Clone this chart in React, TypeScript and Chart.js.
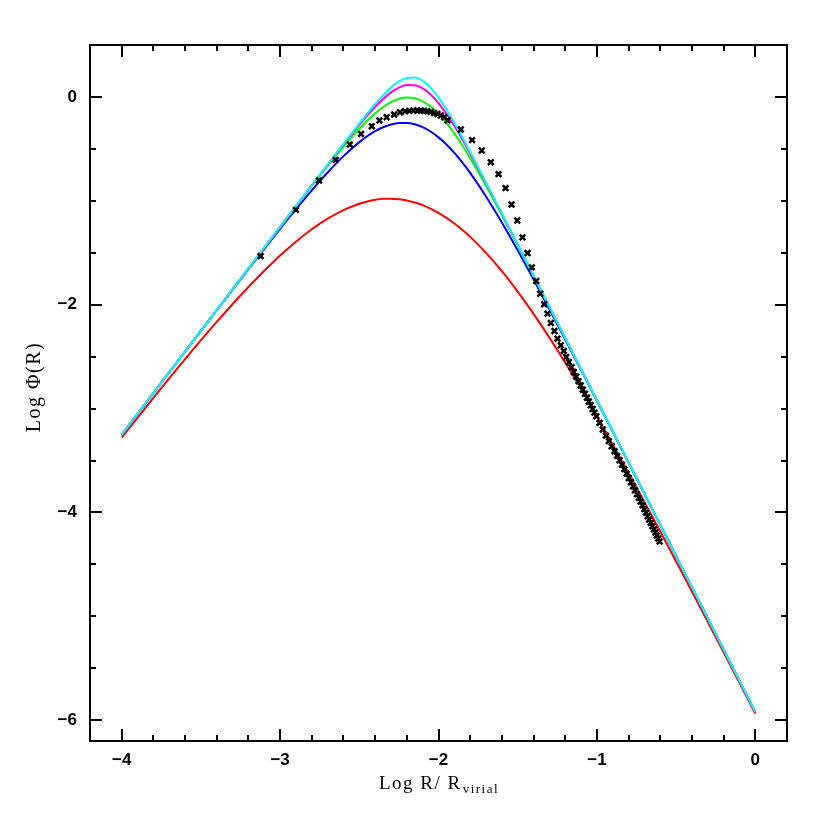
import React, { useEffect, useRef } from 'react';
import { Chart, registerables } from 'chart.js';

Chart.register(...registerables);

// ---- data ----
const xGrid = [-4.0, -3.8, -3.6, -3.4, -3.2, -3.0, -2.9, -2.8, -2.7, -2.6, -2.5, -2.45, -2.4, -2.35, -2.3, -2.25, -2.2, -2.15, -2.1, -2.05, -2.0, -1.95, -1.9, -1.85, -1.8, -1.7, -1.6, -1.5, -1.4, -1.3, -1.2, -1.1, -1.0, -0.8, -0.6, -0.4, -0.2, 0.0];

const redY = [-3.279, -2.896, -2.523, -2.165, -1.829, -1.527, -1.394, -1.274, -1.172, -1.089, -1.028, -1.006, -0.990, -0.981, -0.979, -0.984, -0.996, -1.016, -1.042, -1.075, -1.116, -1.164, -1.218, -1.279, -1.347, -1.501, -1.677, -1.874, -2.088, -2.317, -2.559, -2.812, -3.074, -3.619, -4.183, -4.760, -5.345, -5.936];

const blueY = [-3.250, -2.851, -2.451, -2.053, -1.658, -1.270, -1.081, -0.899, -0.727, -0.570, -0.435, -0.378, -0.330, -0.292, -0.265, -0.251, -0.250, -0.263, -0.291, -0.333, -0.389, -0.457, -0.538, -0.630, -0.731, -0.958, -1.209, -1.477, -1.756, -2.043, -2.335, -2.629, -2.926, -3.522, -4.121, -4.721, -5.320, -5.920];

const greenY = [-3.250, -2.850, -2.450, -2.050, -1.650, -1.252, -1.054, -0.857, -0.664, -0.478, -0.306, -0.227, -0.157, -0.097, -0.050, -0.018, -0.005, -0.013, -0.042, -0.092, -0.162, -0.249, -0.351, -0.465, -0.589, -0.855, -1.138, -1.429, -1.725, -2.022, -2.321, -2.621, -2.920, -3.520, -4.120, -4.720, -5.320, -5.920];

const magentaY = [-3.250, -2.850, -2.450, -2.050, -1.650, -1.250, -1.050, -0.851, -0.653, -0.457, -0.268, -0.179, -0.095, -0.020, 0.044, 0.090, 0.114, 0.112, 0.082, 0.024, -0.059, -0.162, -0.280, -0.408, -0.545, -0.830, -1.124, -1.422, -1.721, -2.020, -2.320, -2.620, -2.920, -3.520, -4.120, -4.720, -5.320, -5.920];

const cyanY = [-3.250, -2.850, -2.450, -2.050, -1.650, -1.250, -1.050, -0.850, -0.651, -0.452, -0.256, -0.161, -0.070, 0.015, 0.090, 0.149, 0.183, 0.187, 0.156, 0.090, -0.004, -0.119, -0.248, -0.386, -0.529, -0.823, -1.121, -1.420, -1.720, -2.020, -2.320, -2.620, -2.920, -3.520, -4.120, -4.720, -5.320, -5.920];

const markerX = [
  -3.123, -2.900, -2.754, -2.649, -2.560, -2.489, -2.421, -2.373, -2.327, -2.280, -2.243, -2.211,
  -2.184, -2.158, -2.133, -2.112, -2.091, -2.070, -2.049, -2.028, -2.007, -1.985, -1.964, -1.943,
  -1.859, -1.788, -1.727, -1.670, -1.621, -1.577, -1.539, -1.503, -1.470, -1.438, -1.411, -1.383,
  -1.358, -1.333, -1.312, -1.291, -1.268, -1.249, -1.228, -1.209, -1.194,
  -1.177, -1.161, -1.146, -1.131, -1.116, -1.102, -1.089, -1.076, -1.063, -1.051, -1.039, -1.027,
  -1.016, -1.004, -0.983, -0.963, -0.943, -0.925, -0.907, -0.889, -0.873, -0.857, -0.842, -0.827,
  -0.813, -0.799, -0.785, -0.772, -0.760, -0.747, -0.735, -0.724, -0.712, -0.701, -0.690, -0.680,
  -0.670, -0.660, -0.650, -0.640, -0.631, -0.622, -0.613, -0.604,
];

const markerY = [
  -1.532, -1.087, -0.804, -0.606, -0.458, -0.356, -0.282, -0.227, -0.195, -0.169, -0.147, -0.138,
  -0.134, -0.131, -0.131, -0.131, -0.134, -0.138, -0.144, -0.154, -0.163, -0.179, -0.195, -0.224,
  -0.313, -0.416, -0.516, -0.628, -0.743, -0.878, -1.035, -1.189, -1.352, -1.503, -1.641, -1.772,
  -1.894, -1.996, -2.086, -2.176, -2.253, -2.327, -2.390, -2.445, -2.503,
  -2.553, -2.601, -2.648, -2.692, -2.736, -2.777, -2.818, -2.857, -2.895, -2.932, -2.968, -3.004,
  -3.039, -3.073, -3.138, -3.201, -3.260, -3.313, -3.362, -3.410, -3.455, -3.498, -3.541, -3.583,
  -3.626, -3.668, -3.709, -3.748, -3.787, -3.824, -3.860, -3.896, -3.932, -3.968, -4.002, -4.036,
  -4.068, -4.100, -4.132, -4.163, -4.193, -4.222, -4.251, -4.279,
];

const xTickValues = [-4, -3, -2, -1, 0];
const yTickValues = [0, -2, -4, -6];
const xMinorStep = 0.2;
const yMinorStep = 0.5;
const xMajorStep = 1;
const yMajorStep = 2;

const xTitleMain = 'Log R/ R';
const xTitleSub = 'virial';
const yTitle = 'Log \u03A6(R)';

const SERIF = '"Liberation Serif", "DejaVu Serif", serif';
const SANS = '"Liberation Sans", "DejaVu Sans", sans-serif';

const fmt = (v: number) => (v < 0 ? '\u2212' + Math.abs(v) : String(v));

const isMultiple = (v: number, step: number) => Math.abs(v / step - Math.round(v / step)) < 1e-6;

const framePlugin = {
  id: 'frameTicks',
  afterDraw(chart: any) {
    const { ctx, chartArea, scales } = chart;
    const { left, right, top, bottom } = chartArea;
    const xs = scales.x;
    const ys = scales.y;
    ctx.save();
    ctx.strokeStyle = '#000';
    ctx.lineWidth = 2;
    ctx.strokeRect(left, top, right - left, bottom - top);
    ctx.beginPath();
    const kx0 = Math.ceil(xs.min / xMinorStep - 1e-6);
    const kx1 = Math.floor(xs.max / xMinorStep + 1e-6);
    for (let k = kx0; k <= kx1; k++) {
      const v = k * xMinorStep;
      const px = Math.round(xs.getPixelForValue(v));
      if (px <= left + 2 || px >= right - 2) continue;
      const len = isMultiple(v, xMajorStep) ? 12 : 6;
      ctx.moveTo(px, bottom);
      ctx.lineTo(px, bottom - len);
      ctx.moveTo(px, top);
      ctx.lineTo(px, top + len);
    }
    const ky0 = Math.ceil(ys.min / yMinorStep - 1e-6);
    const ky1 = Math.floor(ys.max / yMinorStep + 1e-6);
    for (let k = ky0; k <= ky1; k++) {
      const v = k * yMinorStep;
      const py = Math.round(ys.getPixelForValue(v));
      if (py <= top + 2 || py >= bottom - 2) continue;
      const len = isMultiple(v, yMajorStep) ? 12 : 6;
      ctx.moveTo(left, py);
      ctx.lineTo(left + len, py);
      ctx.moveTo(right, py);
      ctx.lineTo(right - len, py);
    }
    ctx.stroke();

    // axis titles
    ctx.fillStyle = '#000';
    ctx.textAlign = 'left';
    ctx.textBaseline = 'alphabetic';
    try { (ctx as any).letterSpacing = '1.5px'; } catch (e) { /* ignore */ }
    ctx.font = `19px ${SERIF}`;
    const wMain = ctx.measureText(xTitleMain).width;
    ctx.font = `13px ${SERIF}`;
    const wSub = ctx.measureText(xTitleSub).width;
    const cx = (left + right) / 2;
    const x0 = cx - (wMain + wSub) / 2;
    const by = bottom + 48;
    ctx.font = `19px ${SERIF}`;
    ctx.fillText(xTitleMain, x0, by);
    ctx.font = `13px ${SERIF}`;
    ctx.fillText(xTitleSub, x0 + wMain + 1, by + 4);

    ctx.translate(left - 55, (top + bottom) / 2 - 6);
    ctx.rotate(-Math.PI / 2);
    ctx.textAlign = 'center';
    ctx.textBaseline = 'middle';
    ctx.font = `20px ${SERIF}`;
    ctx.fillText(yTitle, 0, 0);
    ctx.restore();
  },
};

const toPoints = (ys: number[]) => xGrid.map((x, i) => ({ x, y: ys[i] }));

const lineDs = (label: string, ys: number[], color: string) => ({
  label,
  data: toPoints(ys),
  showLine: true,
  borderColor: color,
  backgroundColor: color,
  borderWidth: 2,
  pointRadius: 0,
  pointHoverRadius: 0,
  fill: false,
  cubicInterpolationMode: 'monotone' as const,
});

export default function App() {
  const canvasRef = useRef<HTMLCanvasElement | null>(null);

  useEffect(() => {
    const canvas = canvasRef.current;
    if (!canvas) return;
    const chart = new Chart(canvas, {
      type: 'scatter',
      data: {
        datasets: [
          {
            label: 'data',
            data: markerX.map((x, i) => ({ x, y: markerY[i] })),
            showLine: false,
            pointStyle: 'crossRot',
            pointRadius: 4,
            pointHoverRadius: 4,
            borderColor: '#000',
            backgroundColor: '#000',
            borderWidth: 2.5,
          },
          lineDs('cyan', cyanY, '#00ffff'),
          lineDs('magenta', magentaY, '#ff00ff'),
          lineDs('green', greenY, '#00ff00'),
          lineDs('blue', blueY, '#0000ff'),
          lineDs('red', redY, '#ff0000'),
        ],
      },
      options: {
        animation: false,
        responsive: false,
        devicePixelRatio: 1,
        events: [],
        layout: { padding: { left: 0, right: 43, top: 45, bottom: 0 } },
        plugins: {
          legend: { display: false },
          tooltip: { enabled: false },
        },
        scales: {
          x: {
            type: 'linear',
            min: -4.2,
            max: 0.2,
            afterFit: (s: any) => {
              s.height = 89;
            },
            afterBuildTicks: (s: any) => {
              s.ticks = xTickValues.map((v) => ({ value: v }));
            },
            grid: { display: false, drawTicks: false },
            border: { display: false },
            ticks: {
              padding: 9,
              color: '#000',
              autoSkip: false,
              maxRotation: 0,
              font: { family: SANS, size: 17, weight: 'bold' },
              callback: (v: any) => fmt(Number(v)),
            },
          },
          y: {
            type: 'linear',
            min: -6.2,
            max: 0.5,
            afterFit: (s: any) => {
              s.width = 90;
            },
            afterBuildTicks: (s: any) => {
              s.ticks = yTickValues.map((v) => ({ value: v }));
            },
            grid: { display: false, drawTicks: false },
            border: { display: false },
            ticks: {
              padding: 13,
              color: '#000',
              autoSkip: false,
              font: { family: SANS, size: 17, weight: 'bold' },
              callback: (v: any) => fmt(Number(v)),
            },
          },
        },
      },
      plugins: [framePlugin],
    });
    return () => chart.destroy();
  }, []);

  return (
    <div style={{ position: 'fixed', left: 0, top: 0, width: 830, height: 830, background: '#fff' }}>
      <canvas ref={canvasRef} width={830} height={830} style={{ width: 830, height: 830 }} />
    </div>
  );
}
